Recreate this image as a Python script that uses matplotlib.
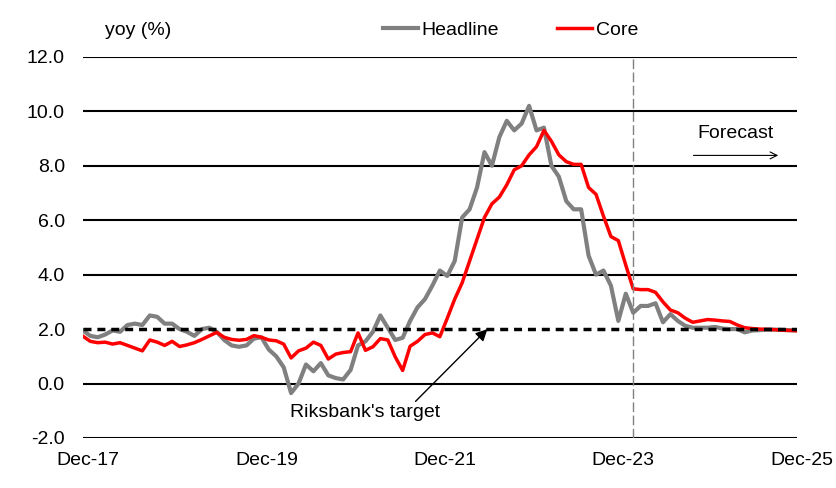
import numpy as np
import pandas as pd
import matplotlib
matplotlib.use("Agg")
import matplotlib.pyplot as plt
from matplotlib.transforms import ScaledTranslation

plt.rcParams['font.family'] = ['Liberation Sans', 'DejaVu Sans']

# monthly yoy (%), Dec-17 .. Dec-25, forecast after Feb-24
months = pd.date_range("2017-12-01", "2025-12-01", freq="MS")
headline = [1.95,
            1.75, 1.7, 1.8, 1.95, 1.9, 2.15, 2.2, 2.15, 2.5, 2.45, 2.2, 2.2,
            2.0, 1.9, 1.75, 2.0, 2.05, 1.9, 1.6, 1.4, 1.35, 1.4, 1.65, 1.7,
            1.25, 1.0, 0.6, -0.35, 0.0, 0.7, 0.45, 0.75, 0.3, 0.2, 0.15, 0.5,
            1.4, 1.55, 1.9, 2.5, 2.05, 1.6, 1.68, 2.3, 2.8, 3.1, 3.6, 4.15,
            3.95, 4.5, 6.1, 6.4, 7.2, 8.5, 8.0, 9.05, 9.65, 9.3, 9.55, 10.2,
            9.3, 9.4, 8.0, 7.6, 6.7, 6.4, 6.4, 4.7, 4.0, 4.15, 3.6, 2.3,
            3.3, 2.6, 2.85, 2.85, 2.95, 2.25, 2.55, 2.3, 2.12, 2.05, 2.05, 2.05,
            2.08, 2.02, 2.0, 2.0, 1.88, 1.95, 1.96, 1.98, 1.98, 1.97, 1.96, 1.95]
core = [1.74,
        1.55, 1.5, 1.52, 1.45, 1.5, 1.4, 1.3, 1.2, 1.6, 1.52, 1.4, 1.55,
        1.36, 1.42, 1.5, 1.62, 1.75, 1.88, 1.7, 1.62, 1.59, 1.62, 1.76, 1.7,
        1.6, 1.57, 1.45, 0.94, 1.2, 1.3, 1.52, 1.4, 0.9, 1.08, 1.14, 1.17,
        1.86, 1.22, 1.35, 1.65, 1.6, 0.98, 0.48, 1.37, 1.55, 1.8, 1.86, 1.72,
        2.4, 3.1, 3.7, 4.5, 5.3, 6.1, 6.6, 6.85, 7.3, 7.85, 8.0, 8.4,
        8.7, 9.3, 8.9, 8.4, 8.15, 8.05, 8.05, 7.2, 6.95, 6.15, 5.4, 5.25,
        4.35, 3.48, 3.45, 3.45, 3.35, 3.0, 2.7, 2.6, 2.4, 2.25, 2.3, 2.35,
        2.33, 2.3, 2.28, 2.15, 2.05, 2.02, 2.0, 1.99, 1.98, 1.96, 1.95, 1.94]
target = 2.0
last_outcome = "2024-02-01"
yticks = [-2, 0, 2, 4, 6, 8, 10, 12]

x = np.arange(len(months))
fc = months.get_loc(pd.Timestamp(last_outcome))

fig = plt.figure(figsize=(8.37, 4.88), dpi=100)
ax = fig.add_axes([0.099, 0.1025, 0.853, 0.781])

for y in yticks:
    if y != target:
        ax.axhline(y, color='black', lw=1.5, zorder=1)

ax.plot(x, headline, color='#808080', lw=3, label='Headline', zorder=2)
ax.plot(x, core, color='#ff0000', lw=2.5, label='Core', zorder=3)
ax.axvline(fc, color='#808080', lw=1, ls=(0, (7, 2.5)), zorder=4)
ax.axhline(target, color='black', lw=2.5, ls=(0, (2.3, 1.7)), zorder=5)

ax.set_xlim(0, len(months) - 1)
ax.set_ylim(yticks[0], yticks[-1])
ax.set_yticks(yticks)
ax.set_yticklabels(['%.1f' % v for v in yticks])
ax.set_xticks(x[::24])
ax.set_xticklabels(months[::24].strftime('%b-%y'))
ax.tick_params(axis='y', length=0, pad=13, labelsize=14)
ax.tick_params(axis='x', length=0, pad=10, labelsize=14)
for lab in ax.get_xticklabels():
    lab.set_transform(lab.get_transform() + ScaledTranslation(0.05, 0, fig.dpi_scale_trans))
for s in ax.spines.values():
    s.set_visible(False)

ax.annotate("Riksbank's target", xy=(54.4, target), xytext=(37.9, -1.07),
            ha='center', va='center', fontsize=14,
            arrowprops=dict(arrowstyle='-|>,head_length=0.5,head_width=0.25',
                            color='black', lw=1, relpos=(0.82, 1.0),
                            shrinkA=0, shrinkB=0))
ax.text(87.7, 9.2, "Forecast", ha='center', va='center', fontsize=14)
ax.annotate("", xy=(93.5, 8.38), xytext=(82.1, 8.38),
            arrowprops=dict(arrowstyle='->,head_length=0.5,head_width=0.25',
                            color='black', lw=0.8, shrinkA=0, shrinkB=0))

fig.text(0.125, 0.9385, "yoy (%)", ha='left', va='center', fontsize=14)
fig.legend(loc='center', bbox_to_anchor=(0.61, 0.9385), ncol=2, frameon=False,
           handlelength=1.8, handletextpad=0.2, columnspacing=3.0, fontsize=14)

fig.savefig("out.png", dpi=100)
